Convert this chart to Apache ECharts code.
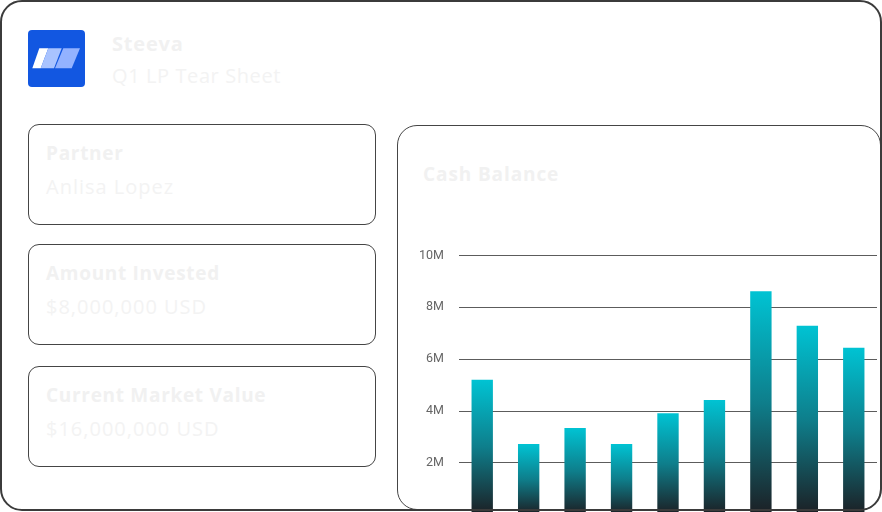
<!DOCTYPE html>
<html><head><meta charset="utf-8">
<script src="https://cdn.jsdelivr.net/npm/echarts@6/dist/echarts.min.js"></script>
<style>
html,body{margin:0;padding:0;width:882px;height:512px;overflow:hidden;background:#fff;font-family:"Open Sans",Lato,sans-serif;position:relative;}
.card{position:absolute;left:0;top:0;width:882px;height:511px;box-sizing:border-box;border:2.5px solid #3b3b3b;border-radius:22px;z-index:5;pointer-events:none;}
.logo{position:absolute;left:28px;top:30px;width:57px;height:57px;}
.t1{position:absolute;left:112px;top:30px;font-size:20px;font-weight:700;color:#f1f1f1;letter-spacing:0.8px;}
.t2{position:absolute;left:112px;top:62px;font-size:20px;color:#f3f3f3;letter-spacing:0.6px;}
.box{position:absolute;left:28px;width:348px;height:101px;box-sizing:border-box;border:1.3px solid #454545;border-radius:11px;}
.box .l{position:absolute;left:17px;top:15px;font-size:19px;font-weight:700;color:#f1f1f1;letter-spacing:0.7px;}
.box .v{position:absolute;left:17px;top:48px;font-size:20px;color:#f3f3f3;letter-spacing:1px;}
.panel{position:absolute;left:397px;top:125px;width:484px;height:385px;box-sizing:border-box;border:1.3px solid #454545;border-radius:20px;}
.ptitle{position:absolute;left:423px;top:161px;font-size:19px;font-weight:700;color:#f1f1f1;letter-spacing:0.9px;}
#chart{position:absolute;left:397px;top:125px;width:482px;height:400px;}
</style></head>
<body>
<div class="card"></div>
<svg class="logo" viewBox="0 0 57 57">
  <rect x="0" y="0" width="57" height="57" rx="4" fill="#1257e1"/>
  <polygon points="11.3,18.3 20.3,18.3 12.7,38.3 4.3,38.3" fill="#ffffff"/>
  <polygon points="20.3,18.3 33.7,18.3 26,38.3 12.7,38.3" fill="#a9c3ff"/>
  <polygon points="35.3,18.3 52,18.3 43.7,38.3 27,38.3" fill="#93b2ff"/>
</svg>
<div class="t1">Steeva</div>
<div class="t2">Q1 LP Tear Sheet</div>
<div class="box" style="top:124px"><div class="l">Partner</div><div class="v">Anlisa Lopez</div></div>
<div class="box" style="top:244px"><div class="l">Amount Invested</div><div class="v">$8,000,000 USD</div></div>
<div class="box" style="top:366px"><div class="l">Current Market Value</div><div class="v">$16,000,000 USD</div></div>
<div class="panel"></div>
<div class="ptitle">Cash Balance</div>
<div id="chart"></div>
<script>
const categories = ['Jan','Feb','Mar','Apr','May','Jun','Jul','Aug','Sep'];
const cashBalance = [5200000, 2720000, 3340000, 2720000, 3910000, 4420000, 8620000, 7290000, 6440000];
const yTicks = {min: 0, max: 10000000, interval: 2000000};

const chart = echarts.init(document.getElementById('chart'), null, {renderer: 'canvas'});
chart.setOption({
  animation: false,
  grid: {left: 62, right: 2, top: 130.5, bottom: 10.5},
  xAxis: {
    type: 'category', data: categories,
    axisLine: {show: false}, axisTick: {show: false}, axisLabel: {show: false}
  },
  yAxis: {
    type: 'value', min: yTicks.min, max: yTicks.max, interval: yTicks.interval,
    axisLine: {show: false}, axisTick: {show: false},
    axisLabel: {
      margin: 15, color: '#666', fontSize: 12.5, fontFamily: 'Roboto', verticalAlign: 'middle', padding: [2, 0, 0, 0],
      formatter: v => v === 0 ? '' : (v / 1000000) + 'M'
    },
    splitLine: {lineStyle: {color: '#5c5c5c', width: 1.2}}
  },
  series: [{
    type: 'bar', data: cashBalance, barWidth: '46%',
    itemStyle: {
      color: new echarts.graphic.LinearGradient(0, 0, 0, 1, [
        {offset: 0, color: '#00c3d3'},
        {offset: 0.5, color: '#0e7e8b'},
        {offset: 1, color: '#1c1f24'}
      ])
    }
  }]
});
</script>
</body></html>
